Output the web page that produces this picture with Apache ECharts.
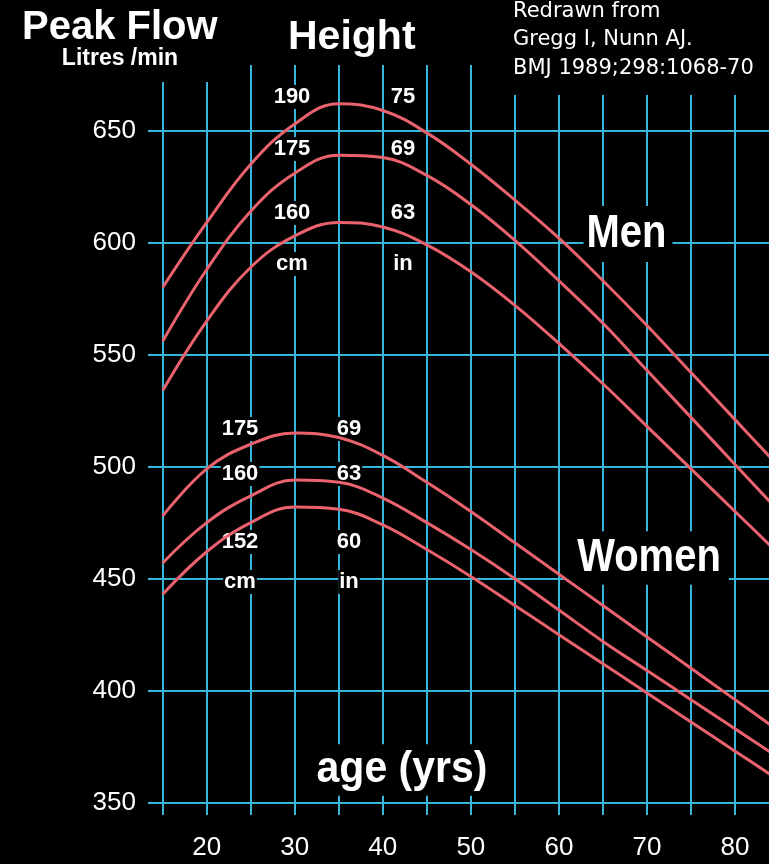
<!DOCTYPE html>
<html>
<head>
<meta charset="utf-8">
<title>Peak Flow by age and height</title>
<script src="https://cdn.jsdelivr.net/npm/echarts@6/dist/echarts.min.js"></script>
<style>
  html, body { margin: 0; padding: 0; background: #000; }
  #chart { width: 769px; height: 864px; }
</style>
</head>
<body>
<div id="chart"></div>
<script>
// Age in years (points along each curve)
const ages = [15, 20, 25, 30, 35, 40, 45, 50, 55, 60, 65, 70, 75, 80, 85];

// Predicted peak expiratory flow (litres/min), men by height
const men190 = [580, 609, 635, 653, 662, 659, 649, 635, 619, 602, 583, 563, 542, 521, 500];
const men175 = [556, 588, 614, 631, 639, 638, 630, 617, 601, 583, 564, 543, 522, 501, 480];
const men160 = [534, 565, 589, 603, 609, 607, 599, 587, 572, 555, 537, 518, 499, 480, 461];

// Women by height
const women175 = [478, 499, 510, 515, 513, 505, 493, 480, 466, 452, 438, 424, 410, 396, 382];
const women160 = [457, 475, 487, 494, 493, 486, 475, 463, 450, 436, 422, 409, 396, 383, 370];
const women152 = [443, 462, 475, 482, 481, 474, 463, 451, 438, 425, 412, 399, 386, 373, 360];

// Tick labels and grid positions
const xTickLabels = [20, 30, 40, 50, 60, 70, 80];
const yTickLabels = [350, 400, 450, 500, 550, 600, 650];
const xGridAges = [15, 20, 25, 30, 35, 40, 45, 50, 55, 60, 65, 70, 75, 80];

// Height annotations
const menCm = ['190', '175', '160', 'cm'];
const menIn = ['75', '69', '63', 'in'];
const womenCm = ['175', '160', '152', 'cm'];
const womenIn = ['69', '63', '60', 'in'];

const RED = '#e9626d';
const CYAN = '#36b6d8';
const WHITE = '#ffffff';
const SANS = "'Liberation Sans', Arial, sans-serif";

// Curves are stacked above the text boxes, which in turn hide the grid lines
function curve(name, values) {
  return {
    name: name,
    type: 'line',
    data: ages.map((a, i) => [a, values[i]]),
    smooth: 0.4,
    showSymbol: false,
    z: 150,
    lineStyle: { color: RED, width: 3 },
    emphasis: { disabled: true }
  };
}

function label(text, x, y, font, opts) {
  opts = opts || {};
  return {
    type: 'text',
    x: x, y: y,
    z: 100,
    scaleX: opts.scaleX || 1,
    scaleY: opts.scaleY || 1,
    style: {
      text: text,
      fill: WHITE,
      font: font,
      align: opts.align || 'center',
      verticalAlign: 'middle',
      backgroundColor: opts.bg ? '#000' : null,
      padding: opts.pad || 0
    }
  };
}

const graphics = [
  // black blocks behind the heading text
  { type: 'rect', z: 100, shape: { x: 0, y: 0, width: 230, height: 82 }, style: { fill: '#000' } },
  { type: 'rect', z: 100, shape: { x: 505, y: 0, width: 264, height: 95 }, style: { fill: '#000' } },
  label('Peak Flow', 22, 28, 'bold 40px ' + SANS, { align: 'left' }),
  label('Litres /min', 120, 59, 'bold 23px ' + SANS),
  label('Height', 288, 38, 'bold 41px ' + SANS, { align: 'left' }),
  label('Redrawn from', 513, 12, '21px "DejaVu Sans", sans-serif', { align: 'left' }),
  label('Gregg I, Nunn AJ.', 513, 40, '21px "DejaVu Sans", sans-serif', { align: 'left' }),
  label('BMJ 1989;298:1068-70', 513, 69, '21px "DejaVu Sans", sans-serif', { align: 'left' }),
  label('Men', 628, 234, 'bold 40px ' + SANS, { bg: true, pad: [4, 6, 5, 3], scaleY: 1.14 }),
  label('Women', 647, 558, 'bold 40px ' + SANS, { bg: true, pad: [0, 8, 7, 12], scaleY: 1.14 }),
  label('age (yrs)', 402, 770, 'bold 41px ' + SANS, { bg: true, pad: [2, 4, 4, 4], scaleY: 1.1 })
];

const menRows = [97, 149, 213, 264];
const womenRows = [429, 474, 542, 582];
menCm.forEach((t, i) => graphics.push(label(t, 292, menRows[i], 'bold 22px ' + SANS, { bg: true, pad: 1 })));
menIn.forEach((t, i) => graphics.push(label(t, 403, menRows[i], 'bold 22px ' + SANS, { bg: true, pad: 1 })));
womenCm.forEach((t, i) => graphics.push(label(t, 240, womenRows[i], 'bold 22px ' + SANS, { bg: true, pad: 1 })));
womenIn.forEach((t, i) => graphics.push(label(t, 349, womenRows[i], 'bold 22px ' + SANS, { bg: true, pad: 1 })));

const chart = echarts.init(document.getElementById('chart'), null, { renderer: 'canvas' });

chart.setOption({
  backgroundColor: '#000',
  animation: false,
  grid: { left: 148, right: 0, top: 65, bottom: 49, containLabel: false },
  xAxis: {
    type: 'value',
    min: 13.33,
    max: 83.86,
    axisLine: { show: false },
    axisTick: { show: false },
    splitLine: { show: false },
    axisLabel: {
      customValues: xTickLabels,
      color: WHITE,
      fontFamily: SANS,
      fontSize: 26,
      margin: 20
    }
  },
  yAxis: {
    type: 'value',
    min: 344.5,
    max: 679.3,
    axisLine: { show: false },
    axisTick: { show: false },
    splitLine: { show: false },
    axisLabel: {
      customValues: yTickLabels,
      color: WHITE,
      fontFamily: SANS,
      fontSize: 26,
      margin: 12
    }
  },
  series: [
    {
      name: 'grid',
      type: 'line',
      data: [],
      z: 1,
      silent: true,
      markLine: {
        silent: true,
        symbol: 'none',
        animation: false,
        label: { show: false },
        emphasis: { disabled: true },
        lineStyle: { color: CYAN, width: 2, type: 'solid' },
        data: xGridAges.map(v => ({ xAxis: v })).concat(yTickLabels.map(v => ({ yAxis: v })))
      }
    },
    curve('Men 190 cm', men190),
    curve('Men 175 cm', men175),
    curve('Men 160 cm', men160),
    curve('Women 175 cm', women175),
    curve('Women 160 cm', women160),
    curve('Women 152 cm', women152)
  ],
  graphic: graphics
});
</script>
</body>
</html>
